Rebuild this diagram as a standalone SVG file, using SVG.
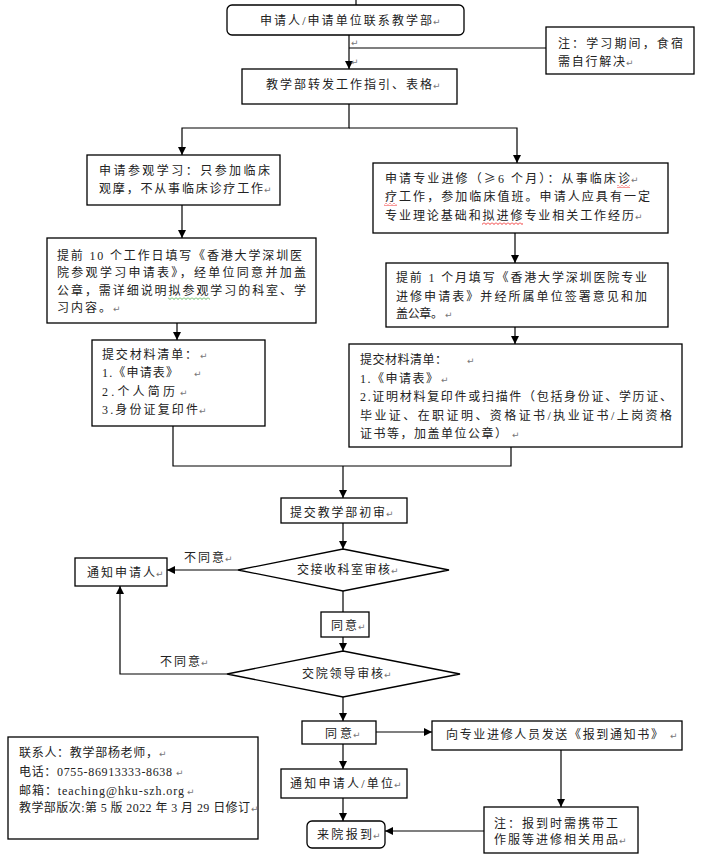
<svg xmlns="http://www.w3.org/2000/svg" width="704" height="864" viewBox="0 0 704 864">
<style>
.box{fill:#fff;stroke:#000;stroke-width:1.3}
.t{font-family:"Liberation Serif","Noto Sans CJK SC",serif;font-size:12px;fill:#222}
.c{font-family:"Noto Sans CJK SC",sans-serif}
.r{font-family:"DejaVu Sans",sans-serif;font-size:9px;fill:#777}
.ln{fill:none;stroke:#000;stroke-width:1.2}
</style>
<defs>
<marker id="ah" viewBox="0 0 10 10" refX="10" refY="5" markerWidth="8" markerHeight="8" markerUnits="userSpaceOnUse" orient="auto"><path d="M0,0 L10,5 L0,10 z" fill="#000"/></marker>
<pattern id="wr" width="4" height="3" patternUnits="userSpaceOnUse"><path d="M0,0.5 L2,2.5 L4,0.5" stroke="#e00" fill="none" stroke-width="0.8"/></pattern>
<pattern id="wg" width="4" height="3" patternUnits="userSpaceOnUse"><path d="M0,0.5 L2,2.5 L4,0.5" stroke="#3a3" fill="none" stroke-width="0.8"/></pattern>
</defs>

<g id="connectors">
<line class="ln" x1="356" y1="0" x2="356" y2="5"/>
<line class="ln" x1="349" y1="35" x2="349" y2="69" stroke-width="2" marker-end="url(#ah)"/>
<line class="ln" x1="349" y1="48" x2="546" y2="48"/>
<text class="r" x="351" y="46">↵</text>
<text class="r" x="351" y="65">↵</text>
<polyline class="ln" points="349,104 349,128 182,128 182,155" marker-end="url(#ah)"/>
<polyline class="ln" points="349,128 517,128 517,163" marker-end="url(#ah)"/>
<line class="ln" x1="182" y1="205" x2="182" y2="238" marker-end="url(#ah)"/>
<line class="ln" x1="177" y1="323" x2="177" y2="340" marker-end="url(#ah)"/>
<line class="ln" x1="515" y1="233" x2="515" y2="263" marker-end="url(#ah)"/>
<line class="ln" x1="515" y1="327" x2="515" y2="344" marker-end="url(#ah)"/>
<polyline class="ln" points="173,426 173,466 511,466 511,447"/>
<line class="ln" x1="343" y1="466" x2="343" y2="498" marker-end="url(#ah)"/>
<line class="ln" x1="343" y1="523" x2="343" y2="549" marker-end="url(#ah)"/>
<line class="ln" x1="238" y1="570" x2="167" y2="570" marker-end="url(#ah)"/>
<line class="ln" x1="343" y1="591" x2="343" y2="612"/>
<line class="ln" x1="343" y1="637" x2="343" y2="651" marker-end="url(#ah)"/>
<polyline class="ln" points="227,674 120,674 120,586" marker-end="url(#ah)"/>
<line class="ln" x1="343" y1="697" x2="343" y2="721" marker-end="url(#ah)"/>
<line class="ln" x1="376" y1="732" x2="432" y2="732" marker-end="url(#ah)"/>
<line class="ln" x1="343" y1="744" x2="343" y2="769" marker-end="url(#ah)"/>
<line class="ln" x1="343" y1="798" x2="343" y2="821" marker-end="url(#ah)"/>
<line class="ln" x1="561" y1="750" x2="561" y2="807" marker-end="url(#ah)"/>
<line class="ln" x1="484" y1="831" x2="385" y2="831" marker-end="url(#ah)"/>
<text class="t" x="184" y="562" textLength="40" lengthAdjust="spacing">不同意</text><text class="r" x="225" y="562">↵</text>
<text class="t" x="160" y="666" textLength="40" lengthAdjust="spacing">不同意</text><text class="r" x="201" y="666">↵</text>
</g>

<g id="start">
<rect class="box" x="227" y="5" width="237" height="30" rx="5"/>
<text class="t" x="260" y="25" textLength="172" lengthAdjust="spacing">申请人/申请单位联系教学部</text><text class="r" x="433" y="25">↵</text>
</g>
<g id="note1">
<rect class="box" x="546" y="27" width="148" height="47"/>
<text class="t" x="558" y="48" textLength="125" lengthAdjust="spacing">注：学习期间，食宿</text>
<text class="t" x="558" y="66" textLength="67" lengthAdjust="spacing">需自行解决</text><text class="r" x="626" y="66">↵</text>
</g>
<g id="forward">
<rect class="box" x="242" y="69" width="215" height="35"/>
<text class="t" x="266" y="89" textLength="166" lengthAdjust="spacing">教学部转发工作指引、表格</text><text class="r" x="433" y="89">↵</text>
</g>

<g id="visit">
<rect class="box" x="87" y="155" width="193" height="50"/>
<text class="t" x="99" y="175" textLength="171" lengthAdjust="spacing">申请参观学习：只参加临床</text>
<text class="t" x="99" y="193" textLength="164" lengthAdjust="spacing">观摩，不从事临床诊疗工作</text><text class="r" x="264" y="193">↵</text>
</g>
<g id="visit-form">
<rect class="box" x="47" y="238" width="269" height="85"/>
<text class="t" x="57" y="260" textLength="245" lengthAdjust="spacing">提前 10 个工作日填写《香港大学深圳医</text>
<text class="t" x="57" y="277" textLength="249" lengthAdjust="spacing">院参观学习申请表》，经单位同意并加盖</text>
<text class="t" x="57" y="295" textLength="249" lengthAdjust="spacing">公章，需详细说明拟参观学习的科室、学</text>
<text class="t" x="57" y="312" textLength="54" lengthAdjust="spacing">习内容。</text><text class="r" x="113" y="312">↵</text>
<rect x="168" y="297" width="42" height="3" fill="url(#wg)"/>
</g>
<g id="visit-list">
<rect class="box" x="92" y="340" width="173" height="86"/>
<text class="t" x="102" y="359" textLength="95" lengthAdjust="spacing">提交材料清单：</text><text class="r" x="200" y="359">↵</text>
<text class="t" x="102" y="377" textLength="76" lengthAdjust="spacing">1.《申请表》</text><text class="r" x="194" y="377">↵</text>
<text class="t" x="102" y="396" textLength="73" lengthAdjust="spacing">2.个人简历</text><text class="r" x="180" y="396">↵</text>
<text class="t" x="102" y="414" textLength="96" lengthAdjust="spacing">3.身份证复印件</text><text class="r" x="199" y="414">↵</text>
</g>

<g id="study">
<rect class="box" x="373" y="163" width="295" height="70"/>
<text class="t" x="385" y="183" textLength="245" lengthAdjust="spacing">申请专业进修（<tspan class="c">≥</tspan>6 个月）：从事临床诊</text><text class="r" x="631" y="183">↵</text>
<text class="t" x="385" y="201" textLength="265" lengthAdjust="spacing">疗工作，参加临床值班。申请人应具有一定</text>
<text class="t" x="385" y="220" textLength="249" lengthAdjust="spacing">专业理论基础和拟进修专业相关工作经历</text><text class="r" x="635" y="220">↵</text>
<rect x="617" y="185" width="13" height="3" fill="url(#wr)"/>
<rect x="384" y="203" width="13" height="3" fill="url(#wr)"/>
<rect x="482" y="222" width="41" height="3" fill="url(#wr)"/>
</g>
<g id="study-form">
<rect class="box" x="386" y="263" width="282" height="64"/>
<text class="t" x="396" y="282" textLength="251" lengthAdjust="spacing">提前 1 个月填写《香港大学深圳医院专业</text>
<text class="t" x="396" y="301" textLength="251" lengthAdjust="spacing">进修申请表》并经所属单位签署意见和加</text>
<text class="t" x="396" y="318" textLength="47" lengthAdjust="spacing">盖公章。</text><text class="r" x="445" y="318">↵</text>
</g>
<g id="study-list">
<rect class="box" x="349" y="344" width="333" height="103"/>
<text class="t" x="360" y="364" textLength="87" lengthAdjust="spacing">提交材料清单：</text><text class="r" x="467" y="364">↵</text>
<text class="t" x="360" y="383" textLength="78" lengthAdjust="spacing">1.《申请表》</text><text class="r" x="441" y="383">↵</text>
<text class="t" x="360" y="401" textLength="312" lengthAdjust="spacing">2.证明材料复印件或扫描件（包括身份证、学历证、</text>
<text class="t" x="360" y="420" textLength="312" lengthAdjust="spacing">毕业证、在职证明、资格证书/执业证书/上岗资格</text>
<text class="t" x="360" y="438" textLength="147" lengthAdjust="spacing">证书等，加盖单位公章）</text><text class="r" x="512" y="438">↵</text>
</g>

<g id="initial-review">
<rect class="box" x="281" y="498" width="126" height="25"/>
<text class="t" x="290" y="517" textLength="95" lengthAdjust="spacing">提交教学部初审</text><text class="r" x="386" y="517">↵</text>
</g>
<g id="dept-review">
<polygon class="box" points="343,549 449,570 343,591 238,570"/>
<text class="t" x="297" y="574" textLength="93" lengthAdjust="spacing">交接收科室审核</text><text class="r" x="391" y="574">↵</text>
</g>
<g id="notify-applicant">
<rect class="box" x="75" y="558" width="92" height="28"/>
<text class="t" x="87" y="577" textLength="68" lengthAdjust="spacing">通知申请人</text><text class="r" x="156" y="577">↵</text>
</g>
<g id="agree1">
<rect class="box" x="321" y="612" width="48" height="25"/>
<text class="t" x="331" y="630" textLength="26" lengthAdjust="spacing">同意</text><text class="r" x="358" y="630">↵</text>
</g>
<g id="leader-review">
<polygon class="box" points="343,651 460,674 343,697 227,674"/>
<text class="t" x="302" y="678" textLength="81" lengthAdjust="spacing">交院领导审核</text><text class="r" x="384" y="678">↵</text>
</g>
<g id="agree2">
<rect class="box" x="302" y="721" width="74" height="23"/>
<text class="t" x="325" y="738" textLength="27" lengthAdjust="spacing">同意</text><text class="r" x="353" y="738">↵</text>
</g>
<g id="send-notice">
<rect class="box" x="432" y="721" width="250" height="29"/>
<text class="t" x="446" y="739" textLength="217" lengthAdjust="spacing">向专业进修人员发送《报到通知书》</text><text class="r" x="670" y="739">↵</text>
</g>
<g id="notify-unit">
<rect class="box" x="281" y="769" width="126" height="29"/>
<text class="t" x="290" y="788" textLength="103" lengthAdjust="spacing">通知申请人/单位</text><text class="r" x="394" y="788">↵</text>
</g>
<g id="arrive">
<rect class="box" x="307" y="821" width="78" height="27" rx="5"/>
<text class="t" x="317" y="839" textLength="55" lengthAdjust="spacing">来院报到</text><text class="r" x="373" y="839">↵</text>
</g>
<g id="note2">
<rect class="box" x="484" y="807" width="154" height="46"/>
<text class="t" x="494" y="828" textLength="124" lengthAdjust="spacing">注：报到时需携带工</text>
<text class="t" x="494" y="844" textLength="124" lengthAdjust="spacing">作服等进修相关用品</text><text class="r" x="619" y="844">↵</text>
</g>
<g id="contact">
<rect class="box" x="8" y="737" width="250" height="102"/>
<text class="t" x="19" y="757" textLength="139" lengthAdjust="spacing">联系人：教学部杨老师，</text><text class="r" x="159" y="757">↵</text>
<text class="t" x="19" y="776" textLength="153" lengthAdjust="spacing">电话：0755-86913333-8638</text><text class="r" x="176" y="776">↵</text>
<text class="t" x="19" y="795" textLength="165" lengthAdjust="spacing">邮箱：teaching@hku-szh.org</text><text class="r" x="187" y="795">↵</text>
<text class="t" x="19" y="812" textLength="231" lengthAdjust="spacing">教学部版次:第 5 版 2022 年 3 月 29 日修订</text><text class="r" x="251" y="812">↵</text>
</g>
</svg>
